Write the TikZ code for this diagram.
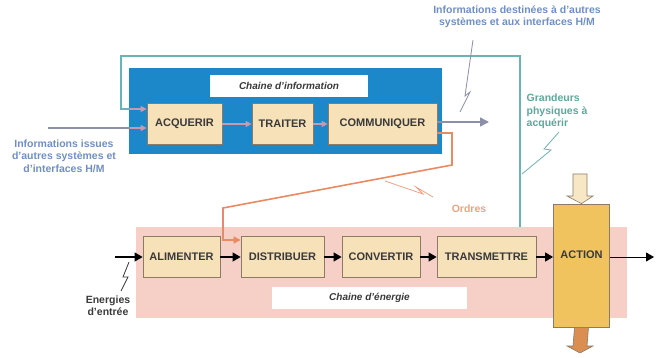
\documentclass[tikz,border=0pt]{standalone}
\usepackage{fontspec}
\setmainfont{Liberation Sans}
\usetikzlibrary{arrows.meta,calc}
\definecolor{infoblue}{HTML}{1C87C9}
\definecolor{procfill}{HTML}{F6E1B8}
\definecolor{procdraw}{HTML}{8A7A66}
\definecolor{pinkbg}{HTML}{F6CFC7}
\definecolor{tealc}{HTML}{6AB3B6}
\definecolor{tealtext}{HTML}{5DA79A}
\definecolor{bluetext}{HTML}{6F8FC4}
\definecolor{greyline}{HTML}{8C8FA8}
\definecolor{pinkarrow}{HTML}{C99AAE}
\definecolor{orangec}{HTML}{EA8A62}
\definecolor{ordrestext}{HTML}{EBA283}
\definecolor{actionfill}{HTML}{F1C35E}
\definecolor{topfill}{HTML}{F8E7C4}
\definecolor{botfill}{HTML}{DA8E52}
\definecolor{boxtext}{HTML}{3A3A3A}
\begin{document}
\begin{tikzpicture}[x=1pt,y=-1pt,
  proc/.style={draw=procdraw, line width=0.8pt, fill=procfill, minimum height=41pt,
    inner sep=0pt, font=\fontsize{11}{13}\selectfont\bfseries, text=boxtext},
  lbl/.style={fill=white, inner sep=0pt, font=\fontsize{10}{12}\selectfont\bfseries\itshape, text=boxtext},
  note/.style={align=center, inner sep=0pt, font=\fontsize{10.5}{12.5}\selectfont\bfseries},
  earrow/.style={-{Triangle[length=8pt,width=9pt]}, line width=1.2pt, black},
  parrow/.style={-{Triangle[length=6pt,width=6pt]}, line width=1.6pt, pinkarrow},
  light/.style={line width=0.8pt},
]
\useasboundingbox (0,0) rectangle (664,358);

% background boxes
\node[fill=pinkbg, minimum width=491pt, minimum height=91pt, inner sep=0pt] (pink) at (381.5,272.5) {};
\node[fill=infoblue, minimum width=313pt, minimum height=86pt, inner sep=0pt] (info) at (285.5,111) {};
\node[lbl, minimum width=158pt, minimum height=22pt] (infolbl) at (289,86) {Chaine d'information};
\node[lbl, minimum width=195pt, minimum height=22pt] (enlbl) at (369.5,298) {Chaine d'énergie};

% teal loop
\coordinate (tA) at (520,227);
\coordinate (tB) at (520,56);
\coordinate (tC) at (121,56);
\coordinate (tD) at (121,109);
\coordinate (tE) at (130,109);
\draw[tealc, line width=1.6pt] (tA) -- (tB) -- (tC) -- (tD) -- (tE);

% information chain
\node[proc, minimum width=75pt] (acq) at (184.5,124) {ACQUERIR};
\node[proc, minimum width=61pt] (trait) at (282.5,124) {TRAITER};
\node[proc, minimum width=109pt] (comm) at (382.5,124) {COMMUNIQUER};

\draw[parrow] (tE) -- (tE -| acq.west);
\coordinate (inL) at (48,128);
\coordinate (inB) at (130,128);
\draw[greyline, line width=1.6pt] (inL) -- (inB);
\draw[parrow] (inB) -- (inB -| acq.west);
\draw[parrow] (acq) -- (trait);
\draw[parrow] (trait) -- (comm);
\coordinate (outE) at (489,122);
\draw[greyline, line width=1.6pt, -{Triangle[length=9pt,width=9pt,open,fill=greyline]}] (comm.east |- outE) -- (outE);

% energy chain
\node[proc, minimum width=77pt] (alim) at (181.5,257) {ALIMENTER};
\node[proc, minimum width=83pt] (dist) at (282.5,257) {DISTRIBUER};
\node[proc, minimum width=78pt] (conv) at (381,257) {CONVERTIR};
\node[proc, minimum width=99pt] (trans) at (486.5,257) {TRANSMETTRE};
\node[draw=procdraw, line width=0.8pt, fill=actionfill, minimum width=56pt, minimum height=123pt, inner sep=0pt] (action) at (581.5,265.5) {};
\node[inner sep=0pt, font=\fontsize{11}{13}\selectfont\bfseries, text=boxtext] (actlbl) at (581.5,255) {ACTION};

\coordinate (enIn) at (115,257);
\draw[earrow] (enIn) -- (alim);
\draw[earrow] (alim) -- (dist);
\draw[earrow] (dist) -- (conv);
\draw[earrow] (conv) -- (trans);
\draw[earrow] (trans) -- (trans.east -| action.west);
\coordinate (actOut) at (654,257);
\draw[earrow, line width=1pt] (action.east |- actOut) -- (actOut);

% big arrows on ACTION
\coordinate (topA) at (580,174);
\coordinate (botA) at (580,353);
\draw[procdraw, line width=0.6pt, fill=topfill]
  ($(topA)+(-7,0)$) -- ($(topA)+(7,0)$) -- ($(topA)+(7,22)$) -- ($(topA)+(13,22)$)
  -- (action.north) -- ($(topA)+(-13,22)$) -- ($(topA)+(-7,22)$) -- cycle;
\draw[procdraw, line width=0.6pt, fill=botfill]
  ($(action.south)+(-7,0)$) -- ($(action.south)+(7,0)$) -- ($(botA)+(7,-7)$) -- ($(botA)+(13,-7)$)
  -- (botA) -- ($(botA)+(-13,-7)$) -- ($(botA)+(-7,-7)$) -- cycle;

% orders
\coordinate (o1) at (452,133);
\coordinate (o2) at (452,165);
\coordinate (o3) at (223,208);
\coordinate (o4) at (223,240);
\draw[orangec, line width=1.6pt, -{Triangle[length=7pt,width=7pt]}]
  (comm.east |- o1) -- (o1) -- (o2) -- (o3) -- (o4) -- (o4 -| dist.west);

% labels
\node[note, text=bluetext] (inlbl) at (64,156) {Informations issues\\d'autres systèmes et\\d'interfaces H/M};
\node[note, text=bluetext] (outlbl) at (517,16.5) {Informations destinées à d'autres\\systèmes et aux interfaces H/M};
\node[note, text=tealtext, align=left] (grlbl) at (557,111.5) {Grandeurs\\physiques à\\acquérir};
\node[note, text=ordrestext] (ordlbl) at (469,209) {Ordres};
\node[note, text=boxtext] (enerlbl) at (108,305.5) {Energies\\d'entrée};

% lightning links
\draw[light, greyline] (473,40) -- (465,96) -- (470,92) -- (460,112);
\draw[light, tealc] (559,132) -- (544,149) -- (551,150) -- (522,174);
\draw[light, ordrestext] (385,181) -- (423,194) -- (416,187) -- (433,197);
\draw[light, black!80] (129,262) -- (123,277) -- (128,277) -- (121,291);
\end{tikzpicture}
\end{document}
